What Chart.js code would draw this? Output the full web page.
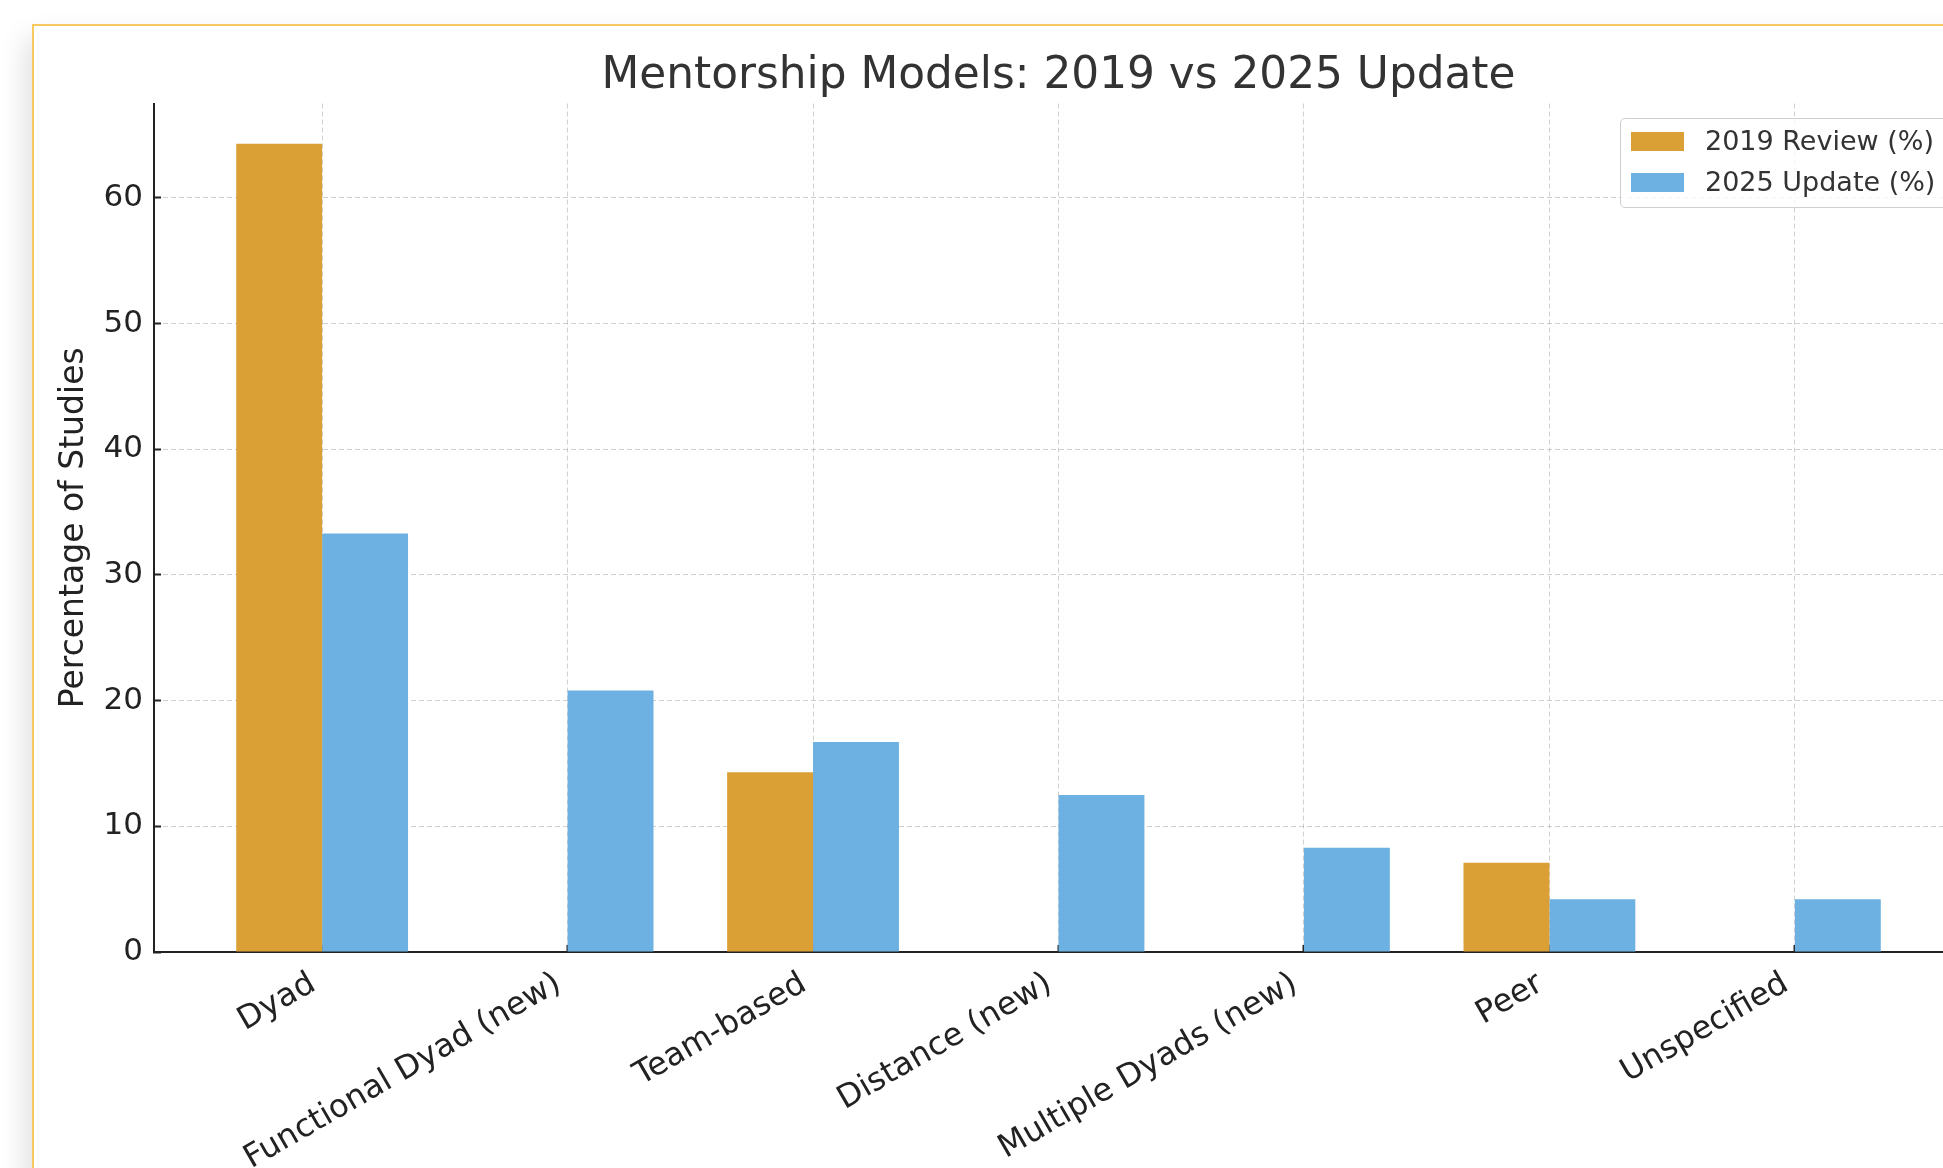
<!DOCTYPE html>
<html>
<head>
<meta charset="utf-8">
<title>Mentorship Models: 2019 vs 2025 Update</title>
<script src="https://cdn.jsdelivr.net/npm/chart.js@4.4.1/dist/chart.umd.min.js"></script>
<style>
    html, body {
        margin: 0;
        padding: 0;
        width: 1943px;
        height: 1168px;
        overflow: hidden;
        background: #fff;
        font-family: "DejaVu Sans", sans-serif;
    }
    .card {
        position: absolute;
        left: 32px;
        top: 24px;
        width: 2100px;
        height: 1300px;
        border: 2px solid #f9c85e;
        background: #fff;
        box-shadow: -6px 14px 26px rgba(0, 0, 0, 0.13);
    }
    #chart {
        position: absolute;
        left: 0;
        top: 0;
    }
    .legend {
        position: absolute;
        left: 1620px;
        top: 118px;
        width: 400px;
        height: 88px;
        border: 1.5px solid #cfcfcf;
        border-radius: 5px;
        background: rgba(255, 255, 255, 0.8);
    }
    .legend-item {
        position: absolute;
        left: 10px;
        height: 19px;
        white-space: nowrap;
    }
    .legend-swatch {
        position: absolute;
        left: 0;
        top: 0;
        width: 53px;
        height: 19px;
    }
    .legend-text {
        position: absolute;
        left: 74px;
        top: -7px;
        font-size: 27px;
        line-height: 32px;
        color: #333;
    }
</style>
</head>
<body>
<div class="card"></div>
<canvas id="chart" width="2000" height="1300"></canvas>
<div class="legend" id="legend"></div>

<script>
// Chart data
const categories = ['Dyad', 'Functional Dyad (new)', 'Team-based', 'Distance (new)',
    'Multiple Dyads (new)', 'Peer', 'Unspecified'];
const review2019 = [64.3, 0, 14.3, 0, 0, 7.1, 0];
const update2025 = [33.3, 20.8, 16.7, 12.5, 8.3, 4.2, 4.2];
const seriesLabels = ['2019 Review (%)', '2025 Update (%)'];
const seriesColors = ['#daa036', '#6db1e2'];
const yTicks = [0, 10, 20, 30, 40, 50, 60];
const yMax = 67.5;

const chartTitle = 'Mentorship Models: 2019 vs 2025 Update';
const yTitle = 'Percentage of Studies';

// Layout numbers
const canvasHeight = 1300;
const plotBottom = 952;
const plotLeft = 154;
const xMin = -0.685;
const xMax = categories.length - 1 + 0.685;

const gridColor = 'rgba(150, 150, 150, 0.45)';
const axisColor = '#222';

Chart.defaults.font.family = '"DejaVu Sans", sans-serif';

function toPoints(values) {
    return values.map((v, i) => ({ x: i, y: v }));
}

const chartCanvas = document.getElementById('chart');

new Chart(chartCanvas, {
    type: 'bar',
    data: {
        datasets: [{
            label: seriesLabels[0],
            data: toPoints(review2019),
            backgroundColor: seriesColors[0],
            borderWidth: 0
        }, {
            label: seriesLabels[1],
            data: toPoints(update2025),
            backgroundColor: seriesColors[1],
            borderWidth: 0
        }]
    },
    options: {
        responsive: false,
        animation: false,
        layout: {
            padding: { left: 0, right: 37, top: 0, bottom: 0 }
        },
        datasets: {
            bar: { categoryPercentage: 0.7, barPercentage: 1.0 }
        },
        plugins: {
            legend: { display: false },
            tooltip: { enabled: false },
            title: {
                display: true,
                text: chartTitle,
                fullSize: false,
                color: '#333',
                font: { size: 43.8, weight: 'normal' },
                padding: { top: 50, bottom: 1 }
            }
        },
        scales: {
            x: {
                type: 'linear',
                min: xMin,
                max: xMax,
                offset: false,
                z: 1,
                afterBuildTicks: (scale) => {
                    scale.ticks = categories.map((c, i) => ({ value: i }));
                },
                afterFit: (scale) => {
                    scale.height = canvasHeight - plotBottom;
                },
                ticks: {
                    autoSkip: false,
                    minRotation: 30,
                    maxRotation: 30,
                    padding: 20,
                    labelOffset: -9,
                    color: axisColor,
                    font: { size: 32 },
                    callback: (value) => categories[value]
                },
                grid: {
                    offset: false,
                    color: gridColor,
                    lineWidth: 1,
                    tickLength: -7,
                    tickColor: axisColor,
                    tickWidth: 2
                },
                border: { display: true, color: axisColor, width: 2, dash: [5, 3] }
            },
            y: {
                min: 0,
                max: yMax,
                z: 1,
                afterBuildTicks: (scale) => {
                    scale.ticks = yTicks.map((v) => ({ value: v }));
                },
                afterFit: (scale) => {
                    scale.width = plotLeft;
                },
                ticks: {
                    padding: 18,
                    color: axisColor,
                    font: { size: 31 }
                },
                grid: {
                    color: gridColor,
                    lineWidth: 1,
                    tickLength: -7,
                    tickColor: axisColor,
                    tickWidth: 2
                },
                border: { display: true, color: axisColor, width: 2, dash: [5, 3] },
                title: {
                    display: true,
                    text: yTitle,
                    color: axisColor,
                    font: { size: 33 },
                    padding: { top: 55, bottom: 0 }
                }
            }
        }
    }
});

// Legend box (drawn as HTML from the series arrays)
const legendDiv = document.getElementById('legend');
seriesLabels.forEach((label, i) => {
    const item = document.createElement('div');
    item.className = 'legend-item';
    item.style.top = (13 + i * 41) + 'px';
    const swatch = document.createElement('div');
    swatch.className = 'legend-swatch';
    swatch.style.background = seriesColors[i];
    const text = document.createElement('div');
    text.className = 'legend-text';
    text.textContent = label;
    item.appendChild(swatch);
    item.appendChild(text);
    legendDiv.appendChild(item);
});
</script>
</body>
</html>
